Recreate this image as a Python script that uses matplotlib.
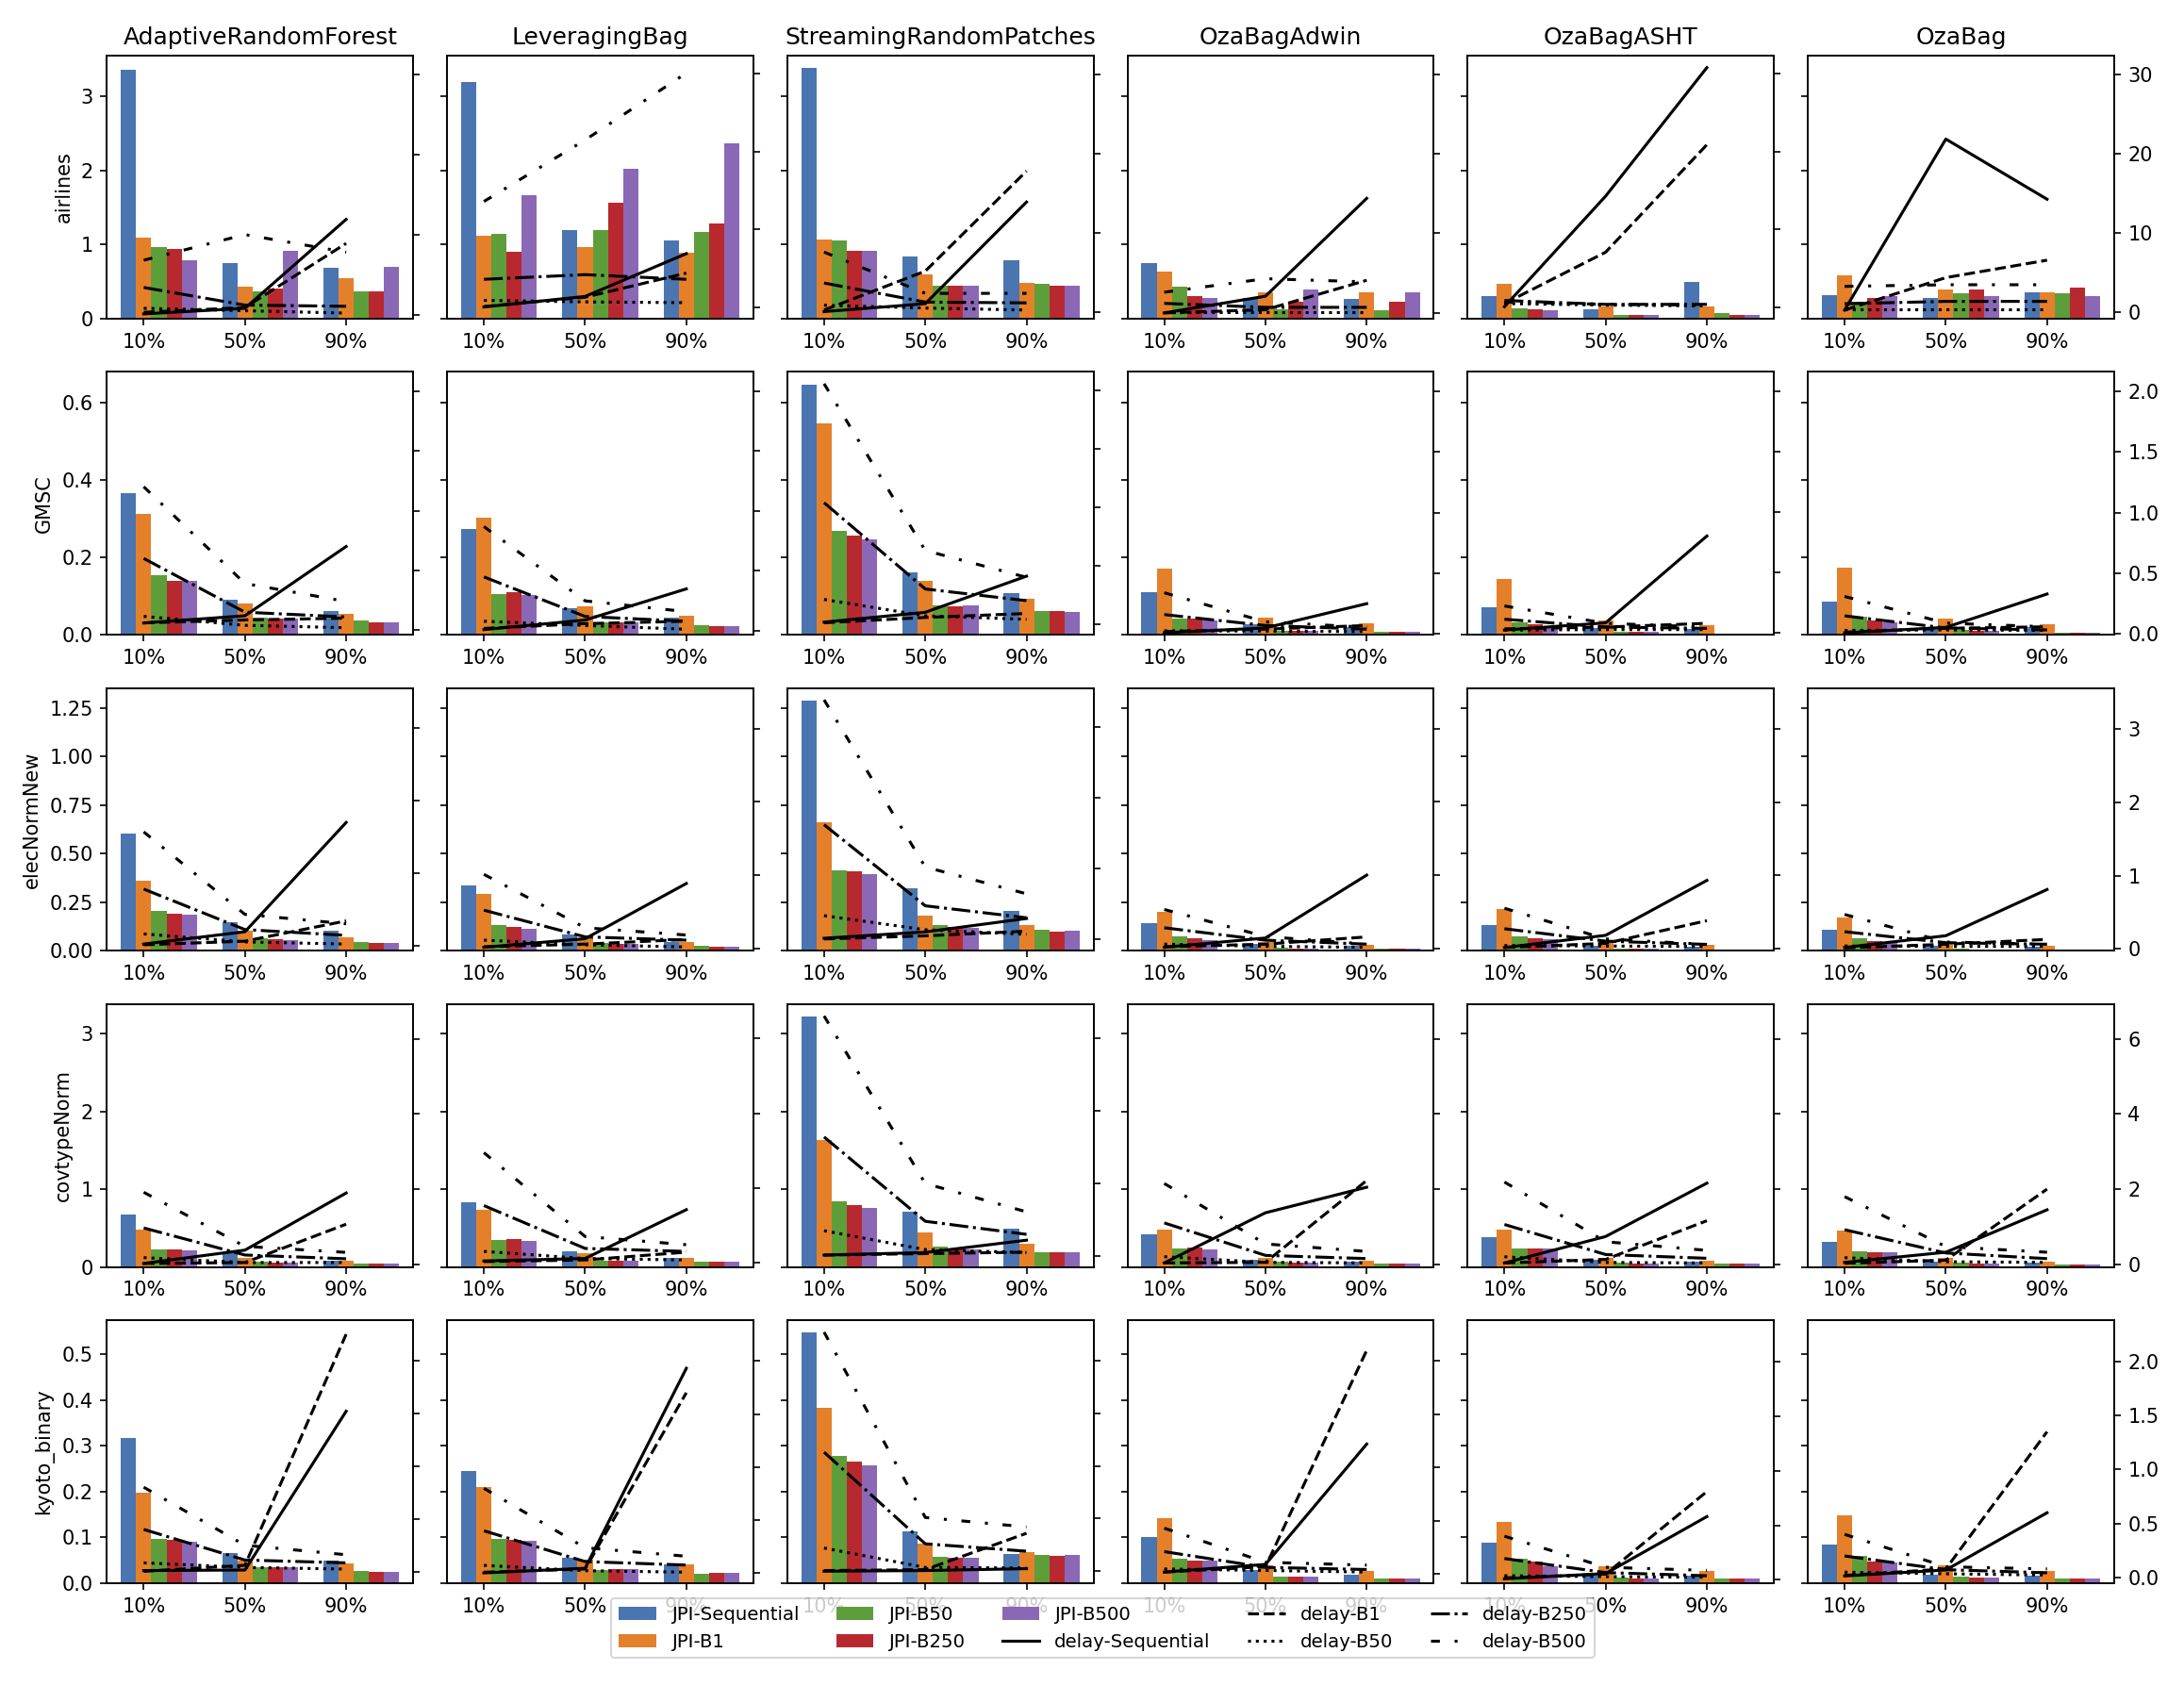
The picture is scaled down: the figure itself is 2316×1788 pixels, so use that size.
import numpy as np
import matplotlib
matplotlib.use('Agg')
import matplotlib.pyplot as plt

# Datasets (rows) and classifiers (columns)
datasets = ['airlines', 'GMSC', 'elecNormNew', 'covtypeNorm', 'kyoto_binary']
classifiers = ['AdaptiveRandomForest', 'LeveragingBag', 'StreamingRandomPatches',
               'OzaBagAdwin', 'OzaBagASHT', 'OzaBag']
positions = ['10%', '50%', '90%']

# JPI values (left axis): [dataset][classifier] -> values at 10%, 50%, 90%
jpi_sequential = [
    [[3.36, 0.75, 0.69], [3.19, 1.19, 1.06], [3.38, 0.84, 0.79], [0.75, 0.28, 0.26], [0.31, 0.13, 0.49], [0.32, 0.28, 0.36]],
    [[0.365, 0.091, 0.061], [0.273, 0.069, 0.045], [0.647, 0.161, 0.108], [0.110, 0.027, 0.020], [0.071, 0.018, 0.014], [0.085, 0.019, 0.019]],
    [[0.602, 0.150, 0.102], [0.338, 0.084, 0.048], [1.289, 0.322, 0.205], [0.145, 0.036, 0.026], [0.131, 0.027, 0.021], [0.111, 0.024, 0.021]],
    [[0.669, 0.173, 0.085], [0.827, 0.206, 0.121], [3.218, 0.706, 0.496], [0.415, 0.097, 0.073], [0.387, 0.097, 0.065], [0.327, 0.065, 0.052]],
    [[0.317, 0.066, 0.049], [0.244, 0.055, 0.042], [0.547, 0.113, 0.064], [0.101, 0.029, 0.018], [0.089, 0.016, 0.016], [0.085, 0.019, 0.016]],
]
jpi_b1 = [
    [[1.09, 0.43, 0.55], [1.12, 0.97, 0.89], [1.07, 0.60, 0.48], [0.64, 0.35, 0.36], [0.475, 0.16, 0.16], [0.59, 0.39, 0.36]],
    [[0.313, 0.080, 0.054], [0.302, 0.073, 0.049], [0.545, 0.140, 0.092], [0.170, 0.044, 0.030], [0.145, 0.036, 0.024], [0.173, 0.043, 0.028]],
    [[0.363, 0.105, 0.068], [0.294, 0.065, 0.048], [0.664, 0.184, 0.131], [0.202, 0.048, 0.032], [0.215, 0.048, 0.032], [0.174, 0.040, 0.027]],
    [[0.484, 0.121, 0.081], [0.738, 0.173, 0.113], [1.637, 0.448, 0.298], [0.484, 0.121, 0.081], [0.476, 0.121, 0.081], [0.472, 0.121, 0.073]],
    [[0.197, 0.050, 0.043], [0.210, 0.051, 0.041], [0.383, 0.086, 0.067], [0.141, 0.038, 0.027], [0.134, 0.036, 0.027], [0.148, 0.038, 0.027]],
]
jpi_b50 = [
    [[0.96, 0.37, 0.37], [1.14, 1.19, 1.17], [1.06, 0.45, 0.47], [0.43, 0.12, 0.11], [0.14, 0.05, 0.07], [0.23, 0.34, 0.34]],
    [[0.154, 0.045, 0.036], [0.106, 0.031, 0.024], [0.268, 0.077, 0.062], [0.043, 0.011, 0.007], [0.032, 0.007, 0.004], [0.046, 0.012, 0.006]],
    [[0.207, 0.065, 0.045], [0.134, 0.040, 0.027], [0.414, 0.132, 0.108], [0.076, 0.016, 0.010], [0.076, 0.013, 0.008], [0.065, 0.011, 0.005]],
    [[0.226, 0.065, 0.044], [0.343, 0.081, 0.065], [0.839, 0.266, 0.185], [0.242, 0.065, 0.040], [0.234, 0.056, 0.040], [0.206, 0.052, 0.032]],
    [[0.097, 0.034, 0.027], [0.096, 0.029, 0.021], [0.277, 0.058, 0.062], [0.053, 0.014, 0.011], [0.053, 0.013, 0.010], [0.059, 0.014, 0.010]],
]
jpi_b250 = [
    [[0.94, 0.41, 0.37], [0.90, 1.57, 1.29], [0.92, 0.44, 0.45], [0.30, 0.23, 0.23], [0.13, 0.05, 0.05], [0.28, 0.39, 0.42]],
    [[0.139, 0.043, 0.032], [0.110, 0.031, 0.023], [0.257, 0.074, 0.061], [0.041, 0.009, 0.007], [0.027, 0.007, 0.004], [0.036, 0.011, 0.005]],
    [[0.192, 0.060, 0.042], [0.124, 0.034, 0.023], [0.409, 0.124, 0.099], [0.065, 0.013, 0.010], [0.063, 0.010, 0.007], [0.053, 0.008, 0.005]],
    [[0.230, 0.060, 0.044], [0.355, 0.080, 0.065], [0.798, 0.238, 0.185], [0.250, 0.060, 0.040], [0.234, 0.050, 0.040], [0.194, 0.045, 0.032]],
    [[0.095, 0.034, 0.025], [0.095, 0.031, 0.023], [0.266, 0.056, 0.060], [0.050, 0.014, 0.011], [0.047, 0.011, 0.010], [0.048, 0.012, 0.010]],
]
jpi_b500 = [
    [[0.79, 0.91, 0.70], [1.67, 2.02, 2.37], [0.92, 0.45, 0.44], [0.28, 0.39, 0.35], [0.11, 0.05, 0.05], [0.30, 0.30, 0.31]],
    [[0.140, 0.042, 0.032], [0.103, 0.031, 0.023], [0.247, 0.076, 0.060], [0.037, 0.009, 0.007], [0.021, 0.007, 0.004], [0.032, 0.011, 0.005]],
    [[0.186, 0.057, 0.042], [0.113, 0.034, 0.023], [0.394, 0.120, 0.103], [0.056, 0.013, 0.010], [0.060, 0.010, 0.007], [0.048, 0.008, 0.005]],
    [[0.218, 0.060, 0.044], [0.331, 0.080, 0.065], [0.762, 0.230, 0.185], [0.230, 0.060, 0.040], [0.234, 0.050, 0.040], [0.185, 0.045, 0.032]],
    [[0.090, 0.035, 0.025], [0.092, 0.031, 0.023], [0.257, 0.056, 0.062], [0.049, 0.014, 0.011], [0.037, 0.011, 0.010], [0.045, 0.012, 0.010]],
]

# delay values (right axis)
delay_sequential = [
    [[0.1, 0.8, 11.9], [0.05, 1.4, 6.9], [0.1, 1.1, 13.9], [0.0, 2.1, 14.4], [0.1, 14.3, 30.8], [0.2, 21.8, 14.2]],
    [[0.06, 0.12, 0.70], [0.01, 0.09, 0.35], [0.016, 0.10, 0.41], [0.01, 0.05, 0.25], [0.02, 0.08, 0.80], [0.01, 0.055, 0.33]],
    [[0.02, 0.19, 1.70], [0.013, 0.13, 0.885], [0.01, 0.10, 0.29], [0.013, 0.14, 1.0], [0.013, 0.18, 0.93], [0.02, 0.18, 0.81]],
    [[0.025, 0.38, 1.90], [0.034, 0.10, 1.41], [0.02, 0.09, 0.43], [0.035, 1.37, 2.05], [0.035, 0.74, 2.16], [0.05, 0.32, 1.45]],
    [[0.01, 0.015, 1.52], [0.003, 0.047, 1.93], [0.0, 0.006, 0.024], [0.018, 0.09, 1.22], [0.009, 0.057, 0.58], [0.015, 0.07, 0.60]],
]
delay_b1 = [
    [[0.3, 0.9, 8.9], [0.1, 1.3, 4.4], [0.3, 5.2, 17.8], [0.0, 0.4, 4.1], [0.5, 7.1, 20.9], [0.2, 4.3, 6.5]],
    [[0.06, 0.085, 0.10], [0.02, 0.06, 0.08], [0.01, 0.056, 0.09], [0.02, 0.04, 0.07], [0.03, 0.045, 0.076], [0.016, 0.047, 0.06]],
    [[0.01, 0.06, 0.34], [0.02, 0.056, 0.12], [0.0, 0.044, 0.11], [0.02, 0.056, 0.155], [0.013, 0.07, 0.38], [0.013, 0.064, 0.13]],
    [[0.025, 0.05, 1.07], [0.017, 0.06, 0.27], [0.02, 0.06, 0.10], [0.035, 0.05, 2.23], [0.035, 0.13, 1.16], [0.025, 0.11, 2.0]],
    [[0.003, 0.06, 2.25], [0.01, 0.04, 1.70], [0.006, 0.015, 0.36], [0.018, 0.068, 2.10], [0.017, 0.052, 0.81], [0.02, 0.08, 1.35]],
]
delay_b50 = [
    [[0.8, 0.5, 0.2], [0.9, 0.7, 0.6], [0.9, 0.55, 0.3], [0.1, 0.1, 0.1], [0.5, 0.3, 0.2], [0.3, 0.3, 0.3]],
    [[0.115, 0.04, 0.02], [0.08, 0.045, 0.013], [0.21, 0.07, 0.04], [0.026, 0.024, 0.02], [0.02, 0.024, 0.024], [0.03, 0.034, 0.03]],
    [[0.16, 0.05, 0.02], [0.11, 0.047, 0.017], [0.33, 0.13, 0.066], [0.056, 0.026, 0.013], [0.04, 0.034, 0.026], [0.04, 0.034, 0.034]],
    [[0.18, 0.05, 0.05], [0.29, 0.10, 0.06], [0.69, 0.17, 0.09], [0.2, 0.05, 0.035], [0.2, 0.05, 0.035], [0.175, 0.067, 0.05]],
    [[0.083, 0.04, 0.024], [0.074, 0.024, 0.01], [0.22, 0.036, 0.03], [0.047, 0.033, 0.018], [0.037, 0.029, 0.023], [0.05, 0.035, 0.023]],
]
delay_b250 = [
    [[3.4, 1.2, 1.05], [3.6, 4.2, 3.6], [3.7, 1.3, 1.2], [1.2, 0.7, 0.7], [0.9, 0.4, 0.4], [1.0, 1.3, 1.3]],
    [[0.60, 0.15, 0.11], [0.45, 0.12, 0.08], [1.04, 0.30, 0.20], [0.16, 0.07, 0.04], [0.11, 0.045, 0.034], [0.15, 0.05, 0.034]],
    [[0.78, 0.22, 0.14], [0.52, 0.155, 0.11], [1.62, 0.47, 0.30], [0.28, 0.11, 0.056], [0.27, 0.10, 0.056], [0.235, 0.085, 0.064]],
    [[0.97, 0.25, 0.15], [1.52, 0.37, 0.29], [3.27, 0.95, 0.59], [1.10, 0.235, 0.15], [1.06, 0.26, 0.16], [0.92, 0.30, 0.15]],
    [[0.40, 0.11, 0.083], [0.40, 0.11, 0.077], [1.13, 0.26, 0.19], [0.21, 0.062, 0.042], [0.195, 0.066, 0.037], [0.20, 0.073, 0.044]],
]
delay_b500 = [
    [[6.8, 10.0, 7.8], [13.6, 21.5, 30.1], [7.6, 2.4, 2.4], [2.6, 4.3, 3.9], [0.7, 0.4, 0.3], [3.2, 3.4, 3.4]],
    [[1.20, 0.39, 0.24], [0.87, 0.25, 0.16], [2.06, 0.63, 0.40], [0.34, 0.10, 0.055], [0.22, 0.076, 0.045], [0.31, 0.09, 0.06]],
    [[1.57, 0.43, 0.30], [1.01, 0.28, 0.18], [3.39, 1.02, 0.64], [0.53, 0.16, 0.056], [0.55, 0.13, 0.056], [0.47, 0.094, 0.064]],
    [[1.92, 0.48, 0.32], [2.94, 0.69, 0.47], [6.60, 1.99, 1.21], [2.15, 0.54, 0.34], [2.19, 0.60, 0.37], [1.80, 0.47, 0.32]],
    [[0.80, 0.25, 0.16], [0.80, 0.24, 0.16], [2.27, 0.51, 0.42], [0.43, 0.11, 0.083], [0.40, 0.115, 0.086], [0.40, 0.10, 0.08]],
]

jpi_series = [('JPI-Sequential', jpi_sequential, '#4a75b0'),
              ('JPI-B1', jpi_b1, '#e5802a'),
              ('JPI-B50', jpi_b50, '#5e9e3a'),
              ('JPI-B250', jpi_b250, '#b8292f'),
              ('JPI-B500', jpi_b500, '#8b68b6')]
delay_series = [('delay-Sequential', delay_sequential, '-'),
                ('delay-B1', delay_b1, '--'),
                ('delay-B50', delay_b50, ':'),
                ('delay-B250', delay_b250, '-.'),
                ('delay-B500', delay_b500, (0, (3, 5, 1, 5)))]

x = np.arange(len(positions))
width = 0.15

fig, axes = plt.subplots(len(datasets), len(classifiers), figsize=(15.44, 11.92),
                         dpi=150, sharey='row')
fig.subplots_adjust(left=0.049, right=0.968, top=0.967, bottom=0.061,
                    wspace=0.111, hspace=0.202)

for r, ds in enumerate(datasets):
    twins = []
    for c, clf in enumerate(classifiers):
        ax = axes[r, c]
        for i, (name, vals, color) in enumerate(jpi_series):
            ax.bar(x + (i - 1) * width, vals[r][c], width, color=color, label=name)
        ax.set_xticks(x)
        ax.set_xticklabels(positions)
        ax2 = ax.twinx()
        for name, vals, ls in delay_series:
            ax2.plot(x, vals[r][c], color='black', linestyle=ls, label=name)
        if c < len(classifiers) - 1:
            ax2.tick_params(labelright=False)
        twins.append(ax2)
        if r == 0:
            ax.set_title(clf)
        if c == 0:
            ax.set_ylabel(ds)
    # same top for the delay axes of a row
    top = max(t.get_ylim()[1] for t in twins)
    for t in twins:
        t.set_ylim(top=top)

h1, l1 = axes[0, 0].get_legend_handles_labels()
h2, l2 = twins[0].get_legend_handles_labels()
fig.legend(h1 + h2, l1 + l2, loc='lower center', ncol=5, fontsize=9.5,
           bbox_to_anchor=(0.505, 0.011))

plt.savefig('out.png')
